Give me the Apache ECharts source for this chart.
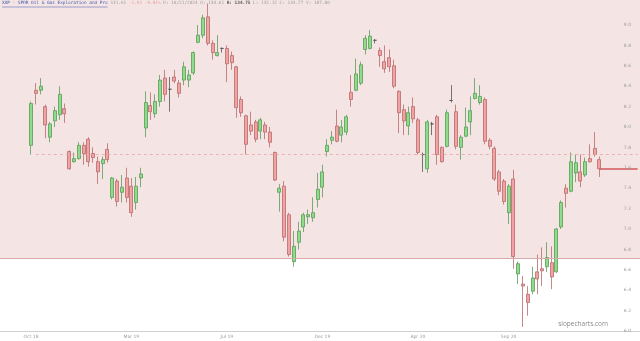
<!DOCTYPE html>
<html><head><meta charset="utf-8">
<script src="https://cdn.jsdelivr.net/npm/echarts@6/dist/echarts.min.js"></script>
<style>html,body{margin:0;padding:0;background:#fff}#c{width:640px;height:341px}</style>
</head><body><div id="c"></div>
<script>
// ---- data ----
const opens = [7.82,8.36,8.36,8.20,7.90,8.06,8.12,8.18,7.76,7.66,7.69,7.82,7.88,7.74,7.66,7.64,7.78,7.31,7.47,7.36,
7.50,7.42,7.26,7.50,7.99,8.21,8.13,8.25,8.48,8.37,8.49,8.43,8.46,8.46,8.53,8.83,8.90,9.08,8.82,8.70,
8.77,8.77,8.70,8.59,8.27,8.11,8.02,8.05,7.96,8.02,7.95,7.75,7.36,7.42,7.14,6.68,6.87,7.02,7.12,7.11,
7.29,7.41,7.76,7.87,8.01,7.92,7.95,8.34,8.36,8.43,8.76,8.77,8.85,8.75,8.64,8.68,8.60,8.35,8.17,8.01,
8.20,8.07,7.73,7.59,8.03,8.10,7.80,7.81,8.26,8.15,7.80,7.91,8.05,8.28,8.24,8.27,7.87,7.79,7.56,7.47,
7.16,7.49,6.56,6.46,6.36,6.39,6.58,6.61,6.63,6.67,6.58,7.02,7.40,7.37,7.55,7.56,7.53,7.69,7.79,7.68];
const closes = [8.23,8.33,8.40,8.02,8.03,8.16,8.32,8.13,7.59,7.69,7.82,7.74,7.66,7.70,7.56,7.68,7.68,7.50,7.27,7.41,
7.31,7.16,7.42,7.54,8.24,8.15,8.25,8.46,8.32,8.37,8.45,8.33,8.59,8.51,8.73,8.90,9.07,8.82,8.73,8.73,
8.77,8.62,8.63,8.19,8.14,7.83,7.96,7.88,8.07,7.95,7.85,7.48,7.40,6.92,6.75,6.83,6.98,7.14,7.14,7.16,
7.39,7.56,7.82,7.90,7.86,8.00,8.10,8.27,8.52,8.61,8.87,8.89,8.85,8.70,8.57,8.59,8.40,8.14,8.06,8.14,
8.08,7.75,7.73,8.05,8.03,7.73,7.66,8.14,8.26,7.81,7.90,8.00,8.16,8.33,8.30,7.86,7.81,7.49,7.37,7.27,
7.42,6.73,6.66,6.44,6.28,6.52,6.51,6.59,6.72,6.53,7.00,7.26,7.35,7.66,7.65,7.47,7.66,7.66,7.73,7.59];
const lows = [7.73,8.22,8.32,7.89,7.85,8.00,8.07,8.04,7.58,7.65,7.68,7.63,7.61,7.65,7.44,7.49,7.65,7.29,7.22,7.26,
7.26,7.12,7.19,7.41,7.90,8.07,8.09,8.20,8.25,8.15,8.43,8.29,8.41,8.39,8.51,8.82,8.87,8.80,8.66,8.69,
8.73,8.44,8.56,8.09,8.10,7.73,7.92,7.85,7.88,7.88,7.80,7.47,7.17,6.88,6.73,6.63,6.80,6.97,7.05,7.07,
7.21,7.31,7.71,7.83,7.85,7.85,7.92,8.20,8.35,8.41,8.71,8.76,8.82,8.59,8.53,8.54,8.38,7.94,7.92,7.92,
8.04,7.73,7.56,7.55,7.92,7.63,7.65,7.80,8.24,7.78,7.68,7.90,7.92,8.27,8.22,7.83,7.78,7.47,7.33,7.24,
7.05,6.61,6.46,6.04,6.15,6.36,6.36,6.44,6.58,6.41,6.57,7.00,7.21,7.36,7.46,7.41,7.51,7.65,7.71,7.51];
const highs = [8.25,8.43,8.48,8.22,8.05,8.20,8.40,8.23,7.77,7.75,7.85,7.85,7.90,7.80,7.71,7.71,7.84,7.51,7.49,7.53,
7.60,7.50,7.51,7.60,8.35,8.34,8.32,8.51,8.56,8.49,8.56,8.46,8.64,8.56,8.74,9.00,9.10,9.21,8.85,8.90,
8.78,8.80,8.74,8.60,8.30,8.12,8.15,8.07,8.09,8.05,8.00,7.76,7.44,7.47,7.16,6.98,7.07,7.16,7.19,7.31,
7.55,7.63,7.88,7.96,8.17,8.07,8.12,8.51,8.67,8.64,8.90,8.95,8.86,8.78,8.80,8.76,8.66,8.36,8.22,8.20,
8.29,8.09,7.75,8.07,8.05,8.12,7.81,8.17,8.41,8.22,7.92,8.19,8.30,8.48,8.41,8.29,7.89,7.81,7.58,7.49,
7.44,7.58,6.68,6.54,6.44,6.63,6.75,6.82,6.87,6.83,7.01,7.28,7.44,7.75,7.73,7.73,7.70,7.83,7.95,7.71];
const tickLabels = ['Oct 18','Mar 19','Jul 19','Dec 19','Apr 20','Sep 20'];
const tickCandles = [0,21,41,61,81,100];
const yMin = 6.0, yMax = 9.245, yStep = 0.2, yLabelTop = 9.0;
const shadeFloor = 6.71;
const refLevel = 7.735;
const padLeft = 6, padRight = 8;

// ---- build ----
const n = opens.length;
const total = padLeft + n + padRight;
const cats = [];
const candles = [];
for (let i = 0; i < total; i++) {
  cats.push(String(i));
  const k = i - padLeft;
  if (k >= 0 && k < n) candles.push([opens[k], closes[k], lows[k], highs[k]]);
  else candles.push(['-','-','-','-']);
}
const labelAt = {};
tickCandles.forEach((c, j) => { labelAt[c + padLeft] = tickLabels[j]; });
const lastIdx = padLeft + n - 1;
const lastClose = closes[n - 1];

const chart = echarts.init(document.getElementById('c'), null, {renderer: 'canvas'});
chart.setOption({
  animation: false,
  backgroundColor: '#ffffff',
  grid: {left: 0, right: 0, top: 0, bottom: 10},
  xAxis: {
    type: 'category', data: cats, boundaryGap: true, z: 10,
    axisLine: {show: true, lineStyle: {color: '#cfcfcf', width: 1}},
    axisTick: {show: false},
    splitLine: {show: false},
    axisLabel: {
      interval: (i) => labelAt[i] !== undefined,
      formatter: (v, i) => labelAt[i] || '',
      fontSize: 4.5, color: '#9a9a9a', margin: 3, fontFamily: 'DejaVu Sans'
    }
  },
  yAxis: {
    type: 'value', position: 'right', min: yMin, max: yMax, interval: yStep, z: 10,
    axisLine: {show: false}, axisTick: {show: false}, splitLine: {show: false},
    axisLabel: {inside: true, margin: 9, fontSize: 4.5, color: '#9a9a9a', showMaxLabel: false,
      fontFamily: 'DejaVu Sans', formatter: (v) => (v > yLabelTop + 1e-6 ? '' : v.toFixed(1))}
  },
  series: [{
    type: 'candlestick',
    data: candles,
    barWidth: 3.5,
    itemStyle: {
      color: '#8edb8a', color0: '#f2a2a2',
      borderColor: '#5b9c5b', borderColor0: '#b86b6b', borderColorDoji: '#555555',
      borderWidth: 0.8
    },
    markArea: {
      silent: true,
      itemStyle: {color: '#f4e4e4', opacity: 1},
      data: [[{yAxis: shadeFloor}, {yAxis: yMax}]]
    },
    markLine: {
      silent: true, symbol: ['none', 'none'],
      label: {show: false},
      data: [
        {yAxis: shadeFloor, lineStyle: {color: '#d8a9a9', width: 1, type: 'solid'}},
        [{coord: [padLeft + 1, refLevel], lineStyle: {color: '#e9a3a3', width: 0.8, type: [3, 3]}},
         {coord: [total - 1, refLevel]}],
        [{coord: [lastIdx, lastClose], lineStyle: {color: '#d25a5a', width: 1.5, type: 'solid'}},
         {coord: [total - 1, lastClose]}]
      ]
    }
  }],
  graphic: [
    {type: 'text', left: 2, top: 1, z: 10, style: {
      text: '{n|XOP - SPDR Oil & Gas Exploration and Pro} {g|131.61} {r|-1.01} {r|-0.81%} {g|D: 10/21/2024 O: 134.61} {b|H: 134.75} {g|L: 132.12 C: 133.77 V: 187.80}',
      font: '4.4px "DejaVu Sans Mono"',
      rich: {
        n: {fill: '#3d5bb0', font: '4.4px "DejaVu Sans Mono"'},
        g: {fill: '#a0a0a0', font: '4.4px "DejaVu Sans Mono"'},
        r: {fill: '#e4a0a0', font: '4.4px "DejaVu Sans Mono"'},
        b: {fill: '#555555', font: 'bold 4.4px "DejaVu Sans Mono"'}
      }
    }},
    {type: 'line', z: 10, shape: {x1: 2, y1: 7, x2: 107.6, y2: 7}, style: {stroke: '#3d5bb0', lineWidth: 0.5}},
    {type: 'text', right: 32, top: 321, z: 10, style: {
      text: 'slopecharts.com', font: '6.5px "Open Sans"', fill: '#8a8a8a'
    }}
  ]
});
</script></body></html>
